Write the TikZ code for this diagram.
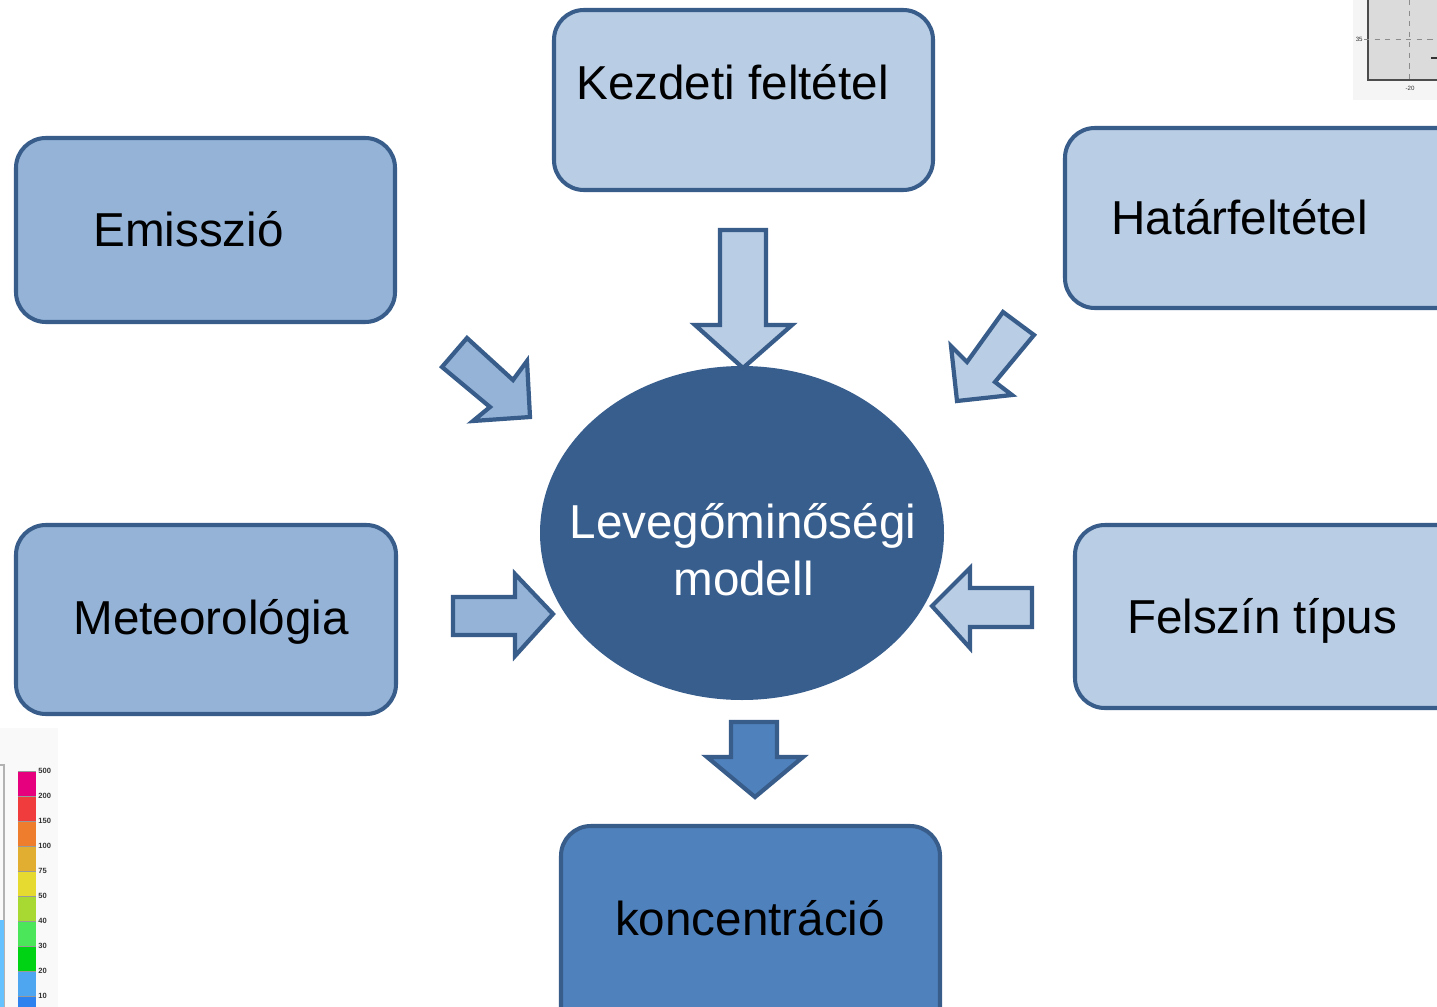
\documentclass[tikz,border=0pt]{standalone}
\usepackage{fontspec}
\setmainfont{Liberation Sans}
\definecolor{lightfill}{HTML}{B9CDE5}
\definecolor{medfill}{HTML}{95B3D7}
\definecolor{darkfill}{HTML}{4F81BD}
\definecolor{ellfill}{HTML}{385E8E}
\definecolor{edge}{HTML}{385D8A}
\begin{document}
\begin{tikzpicture}[x=0.02cm,y=-0.02cm,
  boxshape/.style={draw=edge,line width=2.3pt,rounded corners=17pt},
  blockarrow/.style={draw=edge,line width=2.4pt,line join=miter},
  label/.style={font=\fontsize{27.1}{30}\selectfont,anchor=base,inner sep=0pt},
  tick/.style={font=\fontsize{4.3}{5}\selectfont\bfseries,inner sep=0pt,text=black!80}]
\clip (0,0) rectangle (1437,1007);
\fill[white] (0,0) rectangle (1437,1007);

% top-right chart fragment
\fill[gray!8] (1353,0) rectangle (1437,100);
\fill[gray!28] (1368,0) rectangle (1437,80);
\draw[black!70,line width=0.8pt] (1368,0) -- (1368,80) -- (1437,80);
\draw[black!45,dashed,line width=0.5pt] (1409,0) -- (1409,84);
\draw[black!45,dashed,line width=0.5pt] (1364,39) -- (1437,39);
\node[tick,font=\fontsize{3.5}{4}\selectfont,anchor=east] (t35) at (1363,39) {35};
\node[tick,font=\fontsize{3.5}{4}\selectfont] (t20) at (1410,88) {-20};
\draw[black!80,line width=1.2pt] (1431,58) -- (1437,58);

% bottom-left colorbar fragment
\fill[gray!5] (0,728) rectangle (58,1007);
\draw[gray!60,line width=0.6pt] (0,765) -- (4,765) -- (4,1007);
\fill[blue!40!cyan!60] (0,920) rectangle (3.5,1007);
\foreach \ya/\yb/\c in {771/796/E6007E,796/821/F03C3C,821/846/EE7D2D,846/871/E2AE32,871/896/E6DA30,896/921/A8D832,921/946/4CE65A,946/971/00D214,971/996/4FA6F0,996/1010/2E82F0}{
  \definecolor{segc}{HTML}{\c}
  \fill[segc] (18,\ya) rectangle (36,\yb);
  \draw[black!40,line width=0.3pt] (18,\ya) -- (36,\ya);
}
\foreach \y/\t in {771/500,796/200,821/150,846/100,871/75,896/50,921/40,946/30,971/20,996/10}{
  \node[tick,anchor=west] at (38,\y) {\t};
}

% boxes
\draw[boxshape,fill=lightfill] (554,10) rectangle (933,190);
\draw[boxshape,fill=medfill] (16,138) rectangle (395,322);
\draw[boxshape,fill=lightfill] (1065,128) rectangle (1470,308);
\draw[boxshape,fill=medfill] (16,525) rectangle (396,714);
\draw[boxshape,fill=lightfill] (1075,525) rectangle (1470,708);
\draw[boxshape,fill=darkfill] (561,826) rectangle (940,1040);

\node[label] (tkezdeti) at (732.5,100) {Kezdeti feltétel};
\node[label] (temis) at (188.5,246) {Emisszió};
\node[label] (thatar) at (1239.5,234) {Határfeltétel};
\node[label] (tmeteo) at (211,634) {Meteorológia};
\node[label] (tfelszin) at (1262,633) {Felszín típus};
\node[label] (tkonc) at (750,935) {koncentráció};

% central ellipse
\fill[ellfill] (742,533) ellipse [x radius=202, y radius=167];
\node[label,text=white] (tlev) at (743,538) {Levegőminőségi};
\node[label,text=white] (tmod) at (743.5,595) {modell};

% block arrows
\draw[blockarrow,fill=lightfill] (720,230) -- (766,230) -- (766,325) -- (792,325) -- (743,368) -- (695,325) -- (720,325) -- cycle;
\draw[blockarrow,fill=darkfill] (731,722) -- (777,722) -- (777,757) -- (803,757) -- (755,797) -- (707,757) -- (731,757) -- cycle;
\draw[blockarrow,fill=medfill] (453,597) -- (515,597) -- (515,574) -- (553,614) -- (515,656) -- (515,635) -- (453,635) -- cycle;
\draw[blockarrow,fill=lightfill] (1032,588) -- (970,588) -- (970,568) -- (932,606) -- (970,648) -- (970,627) -- (1032,627) -- cycle;
\draw[blockarrow,fill=medfill] (467,338) -- (513,380) -- (527,361) -- (530,417) -- (473,421) -- (490,407) -- (442,367) -- cycle;
\draw[blockarrow,fill=lightfill] (1003,312) -- (1034,335) -- (995,382) -- (1012,395) -- (957,401) -- (951,346) -- (967,362) -- cycle;
\end{tikzpicture}
\end{document}
